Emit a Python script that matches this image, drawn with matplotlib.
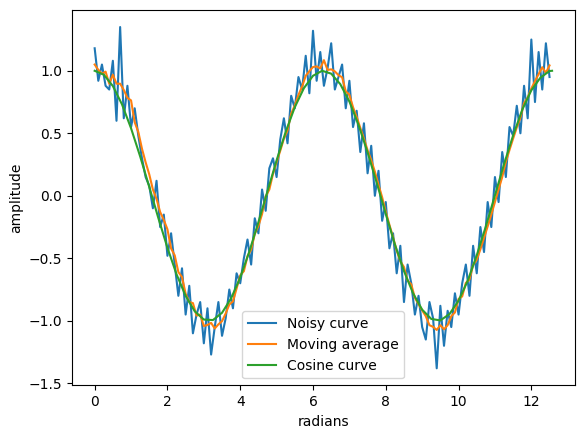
import numpy as np
import pandas as pd
import matplotlib
matplotlib.use("Agg")
import matplotlib.pyplot as plt

noisy_x = [round(0.1 * i, 1) for i in range(126)]
noisy_y = [1.18, 0.92, 1.05, 0.88, 0.85, 1.08, 0.60, 1.35, 0.62, 0.88,
           0.55, 0.70, 0.48, 0.30, 0.15, 0.08, -0.10, 0.12, -0.25, -0.15,
           -0.48, -0.30, -0.55, -0.80, -0.58, -0.95, -0.72, -1.10, -0.95, -0.85,
           -1.18, -0.90, -1.27, -1.05, -0.85, -1.12, -0.98, -0.75, -0.90, -0.62,
           -0.70, -0.50, -0.35, -0.55, -0.18, -0.30, 0.05, -0.12, 0.22, 0.30,
           0.15, 0.45, 0.62, 0.42, 0.80, 0.70, 0.95, 0.85, 1.12, 0.82,
           1.32, 0.92, 1.15, 0.88, 1.02, 1.22, 0.85, 0.95, 1.05, 0.70,
           0.92, 0.55, 0.68, 0.35, 0.58, 0.18, 0.40, 0.00, 0.20, -0.20,
           -0.05, -0.42, -0.30, -0.62, -0.40, -0.85, -0.55, -0.70, -0.95, -0.80,
           -1.05, -1.15, -0.85, -0.98, -1.38, -0.88, -1.20, -0.92, -1.05, -0.78,
           -0.95, -0.70, -0.55, -0.80, -0.40, -0.62, -0.25, -0.45, -0.05, -0.25,
           0.15, -0.05, 0.35, 0.15, 0.55, 0.48, 0.72, 0.50, 0.88, 0.62,
           1.25, 0.75, 1.15, 0.85, 1.22, 0.95]

cos_x = [0.25 * i for i in range(51)] + [12.57]
cos_y = [1.000, 0.969, 0.878, 0.732, 0.540, 0.315, 0.071, -0.178, -0.416, -0.628,
         -0.801, -0.924, -0.990, -0.994, -0.936, -0.820, -0.654, -0.446, -0.211, 0.037,
         0.284, 0.512, 0.709, 0.861, 0.960, 1.000, 0.977, 0.893, 0.754, 0.568,
         0.347, 0.105, -0.146, -0.388, -0.602, -0.780, -0.911, -0.985, -0.997, -0.946,
         -0.839, -0.681, -0.476, -0.245, 0.004, 0.253, 0.483, 0.688, 0.844, 0.945,
         0.998, 1.000]

avg = pd.Series(noisy_y).rolling(6, center=True, min_periods=1).mean()

fig, ax = plt.subplots(figsize=(5.79, 4.33), dpi=100)
ax.plot(noisy_x, noisy_y, label="Noisy curve")
ax.plot(noisy_x, avg, label="Moving average")
ax.plot(cos_x, cos_y, label="Cosine curve")
ax.set_xlabel("radians")
ax.set_ylabel("amplitude")
ax.legend(loc="lower center")
fig.subplots_adjust(left=0.124, right=0.993, bottom=0.11, top=0.977)
fig.savefig("out.png")
